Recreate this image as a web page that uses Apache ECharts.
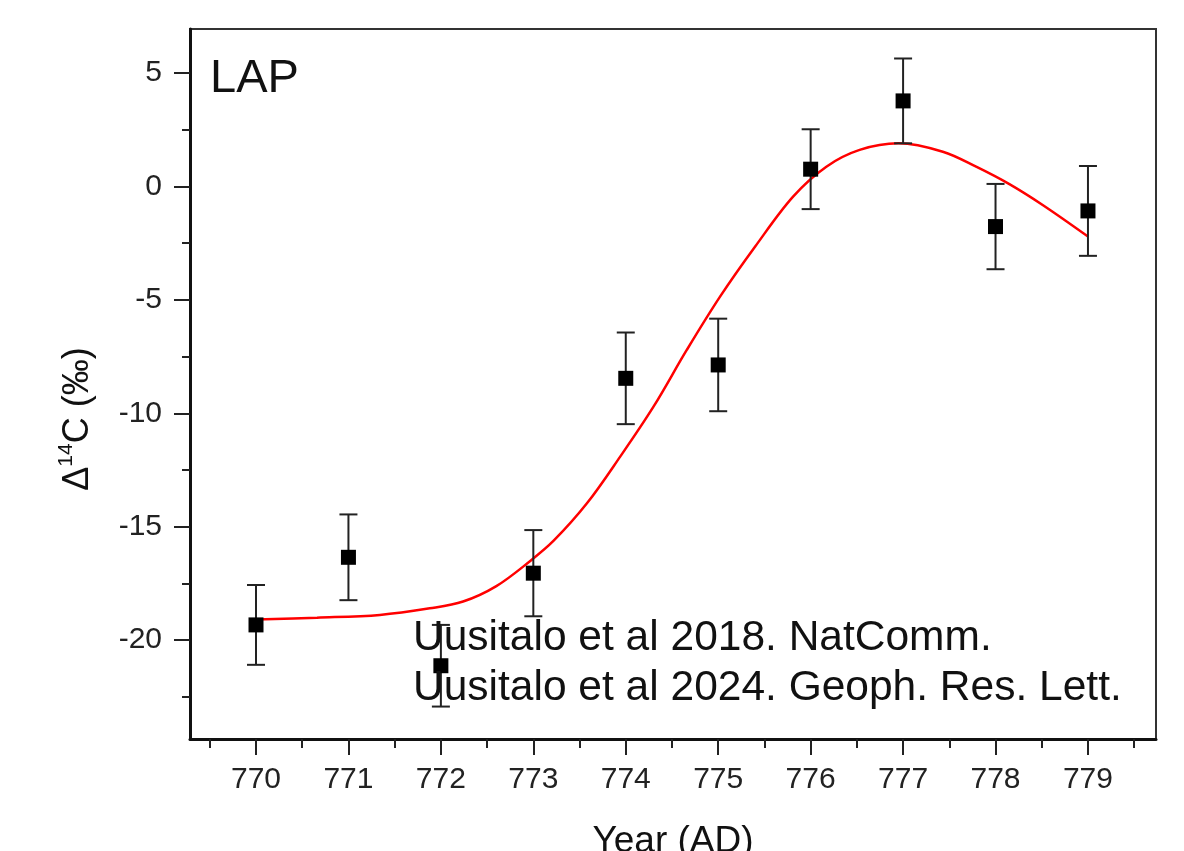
<!DOCTYPE html>
<html>
<head>
<meta charset="utf-8">
<title>LAP</title>
<script src="https://cdn.jsdelivr.net/npm/echarts@6/dist/echarts.min.js"></script>
<style>
  html, body { margin: 0; padding: 0; background: #fff; }
  #main { width: 1184px; height: 851px; }
</style>
</head>
<body>
<div id="main"></div>
<script>
// measured points (year, delta14C, 1 sigma)
var years = [770, 771, 772, 773, 774, 775, 776, 777, 778, 779];
var d14c = [-19.33, -16.35, -21.13, -17.05, -8.46, -7.87, 0.76, 3.77, -1.77, -1.08];
var errs = [1.76, 1.89, 1.80, 1.90, 2.02, 2.04, 1.76, 1.87, 1.88, 1.98];

// red fit curve
var fitX = [770.00, 770.66, 771.34, 771.88, 772.24, 772.60, 772.97, 773.22, 773.58, 773.94,
            774.30, 774.66, 775.02, 775.40, 775.81, 776.17, 776.53, 776.95, 777.43,
            777.79, 778.15, 778.51, 779.00];
var fitY = [-19.09, -19.01, -18.89, -18.60, -18.30, -17.62, -16.50, -15.62, -13.97, -11.91,
            -9.71, -7.21, -4.86, -2.65, -0.45, 0.87, 1.61, 1.90, 1.53,
            0.87, 0.10, -0.82, -2.21];

// tick labels
var xTicks = [770, 771, 772, 773, 774, 775, 776, 777, 778, 779];
var xMinor = [769.5, 770.5, 771.5, 772.5, 773.5, 774.5, 775.5, 776.5, 777.5, 778.5, 779.5];
var yTicks = [-20, -15, -10, -5, 0, 5];
var yMinor = [-22.5, -17.5, -12.5, -7.5, -2.5, 2.5];

var FONT = 'Liberation Sans, Arial, sans-serif';

var chart = echarts.init(document.getElementById('main'));

var pts = [], bars = [], fit = [];
for (var i = 0; i < years.length; i++) {
  pts.push([years[i], d14c[i]]);
  bars.push([years[i], d14c[i] - errs[i], d14c[i] + errs[i]]);
}
for (var j = 0; j < fitX.length; j++) {
  fit.push([fitX[j], fitY[j]]);
}

var xMin = 769.286, xMax = 779.736;
var yMin = -24.36, yMax = 6.94;

chart.setOption({
  animation: false,
  backgroundColor: '#fff',
  textStyle: { fontFamily: FONT },
  grid: {
    left: 190, top: 29, right: 28, bottom: 112,
    outerBoundsMode: 'none', containLabel: false,
    show: true, borderColor: '#333', borderWidth: 2
  },
  xAxis: [
    {
      type: 'value', min: xMin, max: xMax,
      name: 'Year (AD)', nameLocation: 'middle', nameGap: 84,
      nameTextStyle: { fontSize: 37, color: '#111', fontFamily: FONT },
      axisLine: { show: true, onZero: false, lineStyle: { color: '#111', width: 3 } },
      axisTick: { show: true, inside: false, length: 16, lineStyle: { color: '#222', width: 2 }, customValues: xTicks },
      axisLabel: { fontSize: 30, color: '#222', margin: 26, customValues: xTicks, fontFamily: FONT },
      splitLine: { show: false }
    },
    {
      type: 'value', min: xMin, max: xMax, position: 'bottom', offset: 0,
      axisLine: { show: false, onZero: false },
      axisTick: { show: true, length: 9, lineStyle: { color: '#222', width: 2 }, customValues: xMinor },
      axisLabel: { show: false },
      splitLine: { show: false }
    }
  ],
  yAxis: [
    {
      type: 'value', min: yMin, max: yMax,
      axisLine: { show: true, onZero: false, lineStyle: { color: '#111', width: 3 } },
      axisTick: { show: true, length: 16, lineStyle: { color: '#222', width: 2 }, customValues: yTicks },
      axisLabel: { fontSize: 30, color: '#222', margin: 28, customValues: yTicks, fontFamily: FONT },
      splitLine: { show: false }
    },
    {
      type: 'value', min: yMin, max: yMax, position: 'left', offset: 0,
      axisLine: { show: false, onZero: false },
      axisTick: { show: true, length: 8, lineStyle: { color: '#222', width: 2 }, customValues: yMinor },
      axisLabel: { show: false },
      splitLine: { show: false }
    }
  ],
  graphic: [
    {
      type: 'text', left: 210, top: 56, z: 10,
      style: { text: 'LAP', font: '47px ' + FONT, fill: '#111' }
    },
    {
      type: 'text', left: 413, top: 617, z: 10,
      style: { text: 'Uusitalo et al 2018. NatComm.', font: '42.5px ' + FONT, fill: '#111' }
    },
    {
      type: 'text', left: 413, top: 667, z: 10,
      style: { text: 'Uusitalo et al 2024. Geoph. Res. Lett.', font: '42.5px ' + FONT, fill: '#111' }
    },
    {
      // y axis title, rotated
      type: 'text', x: 76, y: 419, rotation: Math.PI / 2, z: 10,
      style: {
        text: '{d|\u0394}{s|14}{c|C (\u2030)}',
        align: 'center', verticalAlign: 'middle',
        rich: {
          d: { fontSize: 36, fontFamily: FONT, fill: '#111', lineHeight: 40, verticalAlign: 'bottom' },
          s: { fontSize: 21, fontFamily: FONT, fill: '#111', lineHeight: 40, verticalAlign: 'top' },
          c: { fontSize: 36, fontFamily: FONT, fill: '#111', lineHeight: 40, verticalAlign: 'bottom' }
        }
      }
    }
  ],
  series: [
    {
      name: 'fit', type: 'line', data: fit, smooth: 0.35, showSymbol: false,
      lineStyle: { color: '#ff0000', width: 2.5 }, z: 2
    },
    {
      name: 'err', type: 'custom', data: bars, z: 3,
      renderItem: function (params, api) {
        var x = api.value(0);
        var lo = api.coord([x, api.value(1)]);
        var hi = api.coord([x, api.value(2)]);
        var w = 9;
        var st = { stroke: '#222', lineWidth: 2 };
        return {
          type: 'group',
          children: [
            { type: 'line', shape: { x1: lo[0], y1: lo[1], x2: hi[0], y2: hi[1] }, style: st },
            { type: 'line', shape: { x1: lo[0] - w, y1: lo[1], x2: lo[0] + w, y2: lo[1] }, style: st },
            { type: 'line', shape: { x1: hi[0] - w, y1: hi[1], x2: hi[0] + w, y2: hi[1] }, style: st }
          ]
        };
      }
    },
    {
      name: 'data', type: 'scatter', data: pts, symbol: 'rect', symbolSize: 15,
      itemStyle: { color: '#000', opacity: 1 }, z: 4
    }
  ]
});
</script>
</body>
</html>
